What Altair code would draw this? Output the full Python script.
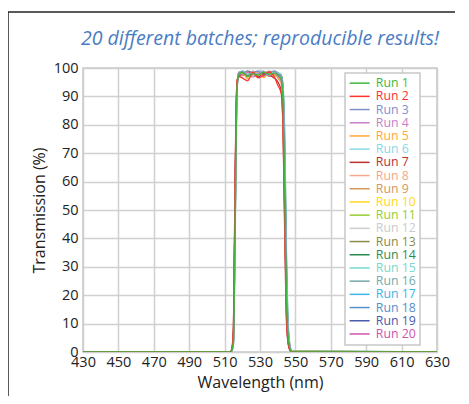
import altair as alt
import pandas as pd

wavelengths = [430, 513, 514, 515, 516, 517, 518, 520, 523, 526, 529, 532, 535,
               538, 540, 542, 543, 544, 545, 546, 547, 548, 630]

run_names = [f"Run {i}" for i in range(1, 21)]
run_colors = ["#3db83d", "#ff3030", "#7f8fcc", "#c77fc7", "#ffa834", "#88d8e8",
              "#b83232", "#f5a88a", "#d9955c", "#ffd820", "#99cc33", "#cccccc",
              "#8a8a4a", "#2e8b50", "#78d8cc", "#77aaaa", "#40b4e8", "#5590c8",
              "#4a5aaa", "#cc55aa"]

run_01 = [0, 0, 0.5, 4, 50, 93, 97.5, 98.5, 97, 98, 97.5, 98.5, 97.8, 98.2, 97.6, 96, 88, 55, 18, 5, 1, 0, 0]
run_02 = [0, 0, 1, 8, 62, 95, 97, 96.5, 95.5, 98.5, 96.5, 97.5, 98.6, 97, 94, 91, 80, 45, 12, 3, 0.5, 0, 0]
run_03 = [0, 0, 0.3, 3, 45, 92, 98, 98.8, 97.4, 98.3, 98.9, 97.2, 98.4, 98.8, 98, 97, 92, 66, 25, 6, 1.5, 0, 0]
run_04 = [0, 0, 0.6, 6, 58, 94, 98.2, 97.6, 98.7, 96.8, 98.2, 98.6, 97.3, 98.1, 97.2, 95.5, 85, 50, 14, 3.5, 0.8, 0, 0]
run_05 = [0, 0, 0.4, 5, 52, 93, 97.8, 98.4, 96.2, 97.6, 98.8, 96.6, 98.3, 97.4, 96.8, 94.5, 84, 48, 15, 4, 1, 0.2, 0]
run_06 = [0, 0, 0.2, 2.5, 40, 90, 97.6, 98.9, 98.1, 97.3, 98.5, 98.9, 97.9, 98.6, 98.3, 97.2, 93, 72, 30, 8, 2, 0.3, 0]
run_07 = [0, 0, 0.8, 9, 66, 95.5, 97, 97.8, 98.6, 97.7, 96.9, 98.1, 97.5, 96.5, 95.2, 92, 78, 40, 10, 2.5, 0.5, 0, 0]
run_08 = [0, 0, 0.5, 5.5, 55, 94, 98, 98.3, 97.9, 98.8, 97.4, 98.2, 98.9, 97.8, 97.5, 96.2, 89, 58, 19, 5, 1, 0, 0]
run_09 = [0, 0, 0.4, 4.5, 48, 92.5, 98.3, 97.2, 98.5, 98.1, 97.9, 97.1, 98.6, 98.4, 97.9, 96.8, 91, 63, 23, 6, 1.2, 0, 0]
run_10 = [0, 0, 0.3, 3.5, 44, 91.5, 97.9, 98.7, 98.2, 97.5, 98.7, 98.3, 97.6, 98.5, 98.1, 96.5, 90, 60, 21, 5.5, 1.1, 0.2, 0]
run_11 = [0, 0, 0.5, 6, 56, 94, 98.1, 98.2, 97.7, 98.6, 98.3, 97.8, 98.8, 98.3, 97.3, 95.8, 87, 53, 16, 4, 0.9, 0, 0]
run_12 = [0, 0, 0.4, 4, 50, 93, 98, 98.5, 98.3, 98, 98.6, 98.4, 98.1, 98.7, 97.8, 96.4, 89, 57, 18, 4.5, 1, 0, 0]
run_13 = [0, 0, 0.6, 7, 60, 94.5, 97.4, 98.1, 96.9, 98.4, 97.2, 98.7, 97.1, 97.9, 96.6, 94.8, 83, 47, 13, 3, 0.6, 0, 0]
run_14 = [0, 0, 0.3, 3, 46, 92, 98.4, 98.6, 98.8, 97.9, 98.4, 98.8, 98.2, 98.9, 98.4, 97.5, 94, 75, 33, 9, 2.2, 0.4, 0]
run_15 = [0, 0, 0.4, 4.2, 49, 92.8, 98.1, 98.9, 98.4, 98.2, 97.7, 98.5, 98.7, 98.2, 97.7, 96.6, 90.5, 61, 22, 5.8, 1.3, 0.1, 0]
run_16 = [0, 0, 0.5, 5, 53, 93.5, 97.7, 98.3, 97.6, 98.9, 98.1, 97.9, 98.5, 98, 97.1, 95.6, 86, 52, 16, 4, 0.8, 0, 0]
run_17 = [0, 0, 0.3, 3.8, 47, 92.2, 98.2, 98.8, 98.6, 98.4, 98.9, 98.1, 98.6, 98.3, 97.9, 96.9, 91.5, 64, 24, 6.2, 1.4, 0.1, 0]
run_18 = [0, 0, 0.6, 6.5, 59, 94.2, 97.5, 98.4, 97.8, 97.6, 98.5, 98.8, 97.8, 98.4, 97, 95.3, 85.5, 51, 15, 3.8, 0.7, 0, 0]
run_19 = [0, 0, 0.4, 4.8, 51, 93.2, 98.5, 98.1, 98.9, 98.5, 98.1, 97.6, 98.8, 98.6, 98.2, 97.1, 92, 68, 27, 7, 1.6, 0.2, 0]
run_20 = [0, 0, 0.5, 5.8, 57, 94.3, 97.9, 98.6, 98.2, 97.4, 98.6, 98.5, 97.9, 98.2, 97.4, 95.9, 87.5, 54, 17, 4.3, 0.9, 0, 0]

x_ticks = [430, 450, 470, 490, 510, 530, 550, 570, 590, 610, 630]
y_ticks = [0, 10, 20, 30, 40, 50, 60, 70, 80, 90, 100]
title_text = "20 different batches; reproducible results!"

all_runs = [run_01, run_02, run_03, run_04, run_05, run_06, run_07, run_08, run_09, run_10,
            run_11, run_12, run_13, run_14, run_15, run_16, run_17, run_18, run_19, run_20]

# later runs first so that Run 1, Run 2 ... end up drawn on top
rows = []
for name, vals in reversed(list(zip(run_names, all_runs))):
    for w, t in zip(wavelengths, vals):
        rows.append({"run": name, "wl": w, "t": t})
df = pd.DataFrame(rows)

FONT = "Open Sans"

lines = alt.Chart(df).mark_line(strokeWidth=1.3, interpolate="monotone", clip=True).encode(
    x=alt.X("wl:Q", scale=alt.Scale(domain=[430, 630], nice=False, zero=False),
            axis=alt.Axis(values=x_ticks, title="Wavelength (nm)", labelFlush=False,
                          labelPadding=3, titlePadding=6, format="d")),
    y=alt.Y("t:Q", scale=alt.Scale(domain=[0, 100], nice=False),
            axis=alt.Axis(values=y_ticks, title="Transmission (%)", labelPadding=5,
                          titlePadding=6)),
    color=alt.Color("run:N", sort=run_names,
                    scale=alt.Scale(domain=run_names, range=run_colors),
                    legend=alt.Legend(orient="none", legendX=262, legendY=5, title=None,
                                      symbolType="M-2,0L2,0", symbolSize=100,
                                      symbolStrokeWidth=1.5, symbolOffset=4.5,
                                      labelFontSize=12.3, labelFont=FONT,
                                      labelColor={"expr": "scale('color', datum.value)"},
                                      padding=4, rowPadding=0.2, labelOffset=10,
                                      strokeColor="#c8c8c8", fillColor="white")),
)

one = pd.DataFrame({"a": [0]})
frame_top = alt.Chart(one).mark_rule(color="#222222", strokeWidth=1.5).encode(
    x=alt.value(-75), x2=alt.value(372), y=alt.value(-56))
frame_left = alt.Chart(one).mark_rule(color="#222222", strokeWidth=1.5).encode(
    x=alt.value(-75), y=alt.value(-56), y2=alt.value(340))
title_mark = alt.Chart(one).mark_text(font=FONT, fontStyle="italic", fontSize=19.5,
                                      color="#4a7cc4", align="center",
                                      baseline="alphabetic").encode(
    x=alt.value(177), y=alt.value(-23), text=alt.value(title_text))

chart = alt.layer(frame_top, frame_left, title_mark, lines).properties(
    width=354, height=284,
    autosize=alt.AutoSizeParams(type="none"),
    padding={"left": 75, "top": 60, "right": 24, "bottom": 44},
).configure_view(stroke="#c8c8c8", strokeWidth=1.5).configure_axis(
    labelFont=FONT, labelFontSize=14.5, labelColor="#222222",
    titleFont=FONT, titleFontSize=16, titleFontWeight="normal", titleColor="#222222",
    ticks=False, domain=False, gridColor="#d0d0d0", gridWidth=1.5,
).configure_legend(strokeWidth=1.5)

chart.save("out.html", embed_options={"renderer": "svg", "actions": False})
